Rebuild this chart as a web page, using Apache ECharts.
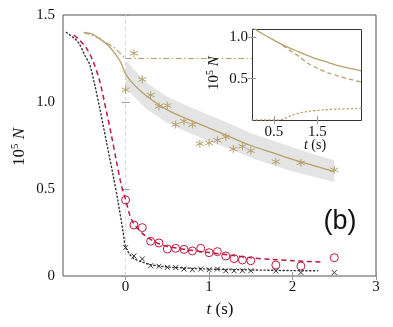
<!DOCTYPE html>
<html><head><meta charset="utf-8">
<script src="https://cdn.jsdelivr.net/npm/echarts@6/dist/echarts.min.js"></script>
<style>html,body{margin:0;padding:0;background:#fff}#c{width:393px;height:327px}</style>
</head><body><div id="c"></div><script>
// ---- main panel ticks ----
const mainXTicks = [0, 1, 2, 3];
const mainYTicks = [0, 0.5, 1.0, 1.5];
const insetXTicks = [0.5, 1.5];
const insetYTicks = [0.5, 1.0];

// ---- main: gold solid fit ----
const goldT = [-0.5,-0.4,-0.3,-0.2,-0.1,-0.05,0,0.1,0.25,0.5,0.75,1,1.25,1.5,1.75,2,2.25,2.5];
const goldV = [1.40,1.39,1.36,1.32,1.26,1.22,1.16,1.10,1.035,0.955,0.90,0.85,0.80,0.75,0.71,0.67,0.635,0.60];
// gold uncertainty band
const bandT  = [0,0.25,0.5,0.75,1,1.25,1.5,1.75,2,2.25,2.5];
const bandHi = [1.24,1.11,1.03,0.975,0.925,0.875,0.82,0.78,0.74,0.70,0.665];
const bandLo = [1.08,0.96,0.88,0.825,0.775,0.73,0.68,0.64,0.60,0.57,0.54];
// gold dash-dot
const ddT = [-0.5,-0.31,-0.13,0,2.5];
const ddV = [1.40,1.365,1.31,1.25,1.25];
// gold asterisk points
const goldPtsT = [0,0.1,0.2,0.3,0.4,0.5,0.6,0.7,0.8,0.89,1.0,1.1,1.2,1.29,1.4,1.5,1.8,2.1,2.5];
const goldPtsV = [1.07,1.28,1.13,1.04,0.975,0.98,0.87,0.89,0.87,0.76,0.765,0.78,0.80,0.73,0.745,0.72,0.657,0.65,0.61];

// ---- main: red dashed fit + circles ----
const redT = [-0.62,-0.55,-0.47,-0.39,-0.31,-0.23,-0.17,-0.11,-0.05,0,0.05,0.1,0.2,0.3,0.4,0.5,0.75,1.0,1.25,1.5,1.75,2.0,2.35];
const redV = [1.385,1.355,1.31,1.235,1.12,0.946,0.81,0.66,0.52,0.44,0.35,0.30,0.245,0.21,0.185,0.17,0.15,0.135,0.12,0.105,0.095,0.088,0.08];
const redPtsT = [0,0.1,0.2,0.3,0.4,0.5,0.6,0.7,0.8,0.9,1.0,1.1,1.2,1.3,1.4,1.5,1.8,2.1,2.5];
const redPtsV = [0.437,0.293,0.278,0.2,0.19,0.155,0.159,0.153,0.144,0.159,0.134,0.14,0.115,0.1,0.092,0.088,0.063,0.057,0.105];

// ---- main: black dotted fit + crosses ----
const blackT = [-0.71,-0.6,-0.55,-0.49,-0.43,-0.37,-0.31,-0.23,-0.15,-0.09,-0.03,0,0.05,0.1,0.2,0.3,0.5,0.75,1.0,1.5,2.0,2.3];
const blackV = [1.40,1.36,1.33,1.27,1.215,1.10,0.965,0.773,0.58,0.427,0.254,0.167,0.125,0.1,0.08,0.065,0.052,0.045,0.04,0.035,0.031,0.03];
const blackPtsT = [0,0.1,0.2,0.3,0.4,0.5,0.6,0.7,0.8,0.9,1.0,1.1,1.2,1.3,1.4,1.5,1.8,2.1,2.5];
const blackPtsV = [0.163,0.115,0.098,0.059,0.056,0.05,0.048,0.04,0.036,0.04,0.036,0.04,0.03,0.03,0.03,0.03,0.029,0.02,0.02];

// reference line
const vLineX = 0;

// ---- inset ----
const inSolidT = [0,0.25,0.5,0.75,1.0,1.25,1.5,1.75,2.0,2.25,2.5];
const inSolidV = [1.12,1.04,0.965,0.895,0.84,0.785,0.735,0.695,0.655,0.625,0.595];
const inDashT = [0.7,0.9,1.1,1.3,1.5,1.75,2.0,2.25,2.5];
const inDashV = [0.90,0.83,0.76,0.68,0.625,0.57,0.53,0.49,0.46];
const inDotT = [0,0.6,0.75,0.9,1.1,1.3,1.6,2.0,2.5];
const inDotV = [0,0,0.02,0.055,0.085,0.105,0.12,0.133,0.142];

const zip = (a,b) => a.map((x,i)=>[x,b[i]]);
const GOLD = '#b7a16a', RED = '#c0183f', BLACK = '#333333';
const SERIF = 'Liberation Serif, Times New Roman, serif';

const star = 'path://M0,-5L0,5M-4.33,-2.5L4.33,2.5M-4.33,2.5L4.33,-2.5';
const cross = 'path://M-3,-3L3,3M-3,3L3,-3';

const chart = echarts.init(document.getElementById('c'), null, {renderer:'canvas'});

function axisX(gridIndex, pos, min, max, ticks, labels, z, margin){
  return {type:'value', gridIndex, position:pos, min, max, z,
    axisLine:{show:false}, splitLine:{show:false},
    axisTick:{show:true, inside:true, length:4, customValues:ticks, lineStyle:{color:'#999', width:1}},
    axisLabel:{show:labels, customValues:ticks, margin, color:'#111', fontFamily:SERIF, fontSize:15,
      formatter: v => (Math.abs(v - Math.round(v))<1e-9 ? String(Math.round(v)) : v.toFixed(1))}};
}
function axisY(gridIndex, pos, min, max, ticks, labels, z, margin){
  return {type:'value', gridIndex, position:pos, min, max, z,
    axisLine:{show:false}, splitLine:{show:false},
    axisTick:{show:true, inside:true, length:4, customValues:ticks, lineStyle:{color:'#999', width:1}},
    axisLabel:{show:labels, customValues:ticks, margin, color:'#111', fontFamily:SERIF, fontSize:15,
      formatter: v => (v===0 ? '0' : v.toFixed(1))}};
}

const option = {
  animation:false,
  backgroundColor:'#fff',
  grid:[
    {left:63, top:15, width:313, height:261, show:true, borderColor:'#555', borderWidth:1, backgroundColor:'transparent'},
    {left:252, top:29, width:109, height:91, show:false}
  ],
  xAxis:[
    axisX(0,'bottom',-0.75,3,mainXTicks,true,0,4),
    axisX(0,'top',-0.75,3,mainXTicks,false,0,4),
    axisX(1,'bottom',0,2.5,insetXTicks,true,11,5),
    axisX(1,'top',0,2.5,insetXTicks,false,11,5)
  ],
  yAxis:[
    axisY(0,'left',0,1.5,mainYTicks,true,0,8),
    axisY(0,'right',0,1.5,mainYTicks,false,0,8),
    axisY(1,'left',0,1.1,insetYTicks,true,11,4),
    axisY(1,'right',0,1.1,insetYTicks,false,11,4)
  ],
  series:[
    {type:'line', xAxisIndex:0, yAxisIndex:0, data:[[vLineX,0],[vLineX,1.5]], showSymbol:false, silent:true, z:1,
      lineStyle:{color:'#d6d6d6', width:1, type:[4,3]}},
    {type:'custom', xAxisIndex:0, yAxisIndex:0, data:[[0,0]], z:1, silent:true,
      renderItem:(params, api)=>{
        const pts=[];
        for(let i=0;i<bandT.length;i++) pts.push(api.coord([bandT[i], bandHi[i]]));
        for(let i=bandT.length-1;i>=0;i--) pts.push(api.coord([bandT[i], bandLo[i]]));
        return {type:'polygon', shape:{points:pts}, style:{fill:'#e4e4e4', stroke:null}};
      }},
    {type:'line', xAxisIndex:0, yAxisIndex:0, data:zip(ddT,ddV), showSymbol:false, z:2,
      lineStyle:{color:GOLD, width:1.2, type:[6,2.5,1.5,2.5]}},
    {type:'line', xAxisIndex:0, yAxisIndex:0, data:zip(goldT,goldV), showSymbol:false, smooth:0.3, z:3,
      lineStyle:{color:GOLD, width:1.3}},
    {type:'line', xAxisIndex:0, yAxisIndex:0, data:zip(redT,redV), showSymbol:false, smooth:0.3, z:3,
      lineStyle:{color:RED, width:1.5, type:[5,3.5]}},
    {type:'line', xAxisIndex:0, yAxisIndex:0, data:zip(blackT,blackV), showSymbol:false, smooth:0.3, z:3,
      lineStyle:{color:BLACK, width:1.4, type:[1.2,2.6], cap:'round'}},
    {type:'scatter', xAxisIndex:0, yAxisIndex:0, data:zip(goldPtsT,goldPtsV), symbol:star, symbolSize:8, z:4,
      itemStyle:{color:'none', borderColor:GOLD, borderWidth:1, opacity:1}},
    {type:'scatter', xAxisIndex:0, yAxisIndex:0, data:zip(redPtsT,redPtsV), symbol:'circle', symbolSize:8, z:4,
      itemStyle:{color:'rgba(255,255,255,0)', borderColor:RED, borderWidth:1, opacity:1}},
    {type:'scatter', xAxisIndex:0, yAxisIndex:0, data:zip(blackPtsT,blackPtsV), symbol:cross, symbolSize:5, z:4,
      itemStyle:{color:'none', borderColor:BLACK, borderWidth:1, opacity:1}},
    // inset
    {type:'line', xAxisIndex:2, yAxisIndex:2, data:zip(inSolidT,inSolidV), showSymbol:false, smooth:0.3, z:12,
      lineStyle:{color:GOLD, width:1.3}},
    {type:'line', xAxisIndex:2, yAxisIndex:2, data:zip(inDashT,inDashV), showSymbol:false, smooth:0.3, z:12,
      lineStyle:{color:GOLD, width:1.3, type:[4.5,3]}},
    {type:'line', xAxisIndex:2, yAxisIndex:2, data:zip(inDotT,inDotV), showSymbol:false, smooth:0.3, z:12,
      lineStyle:{color:GOLD, width:1.3, type:[1.2,3], cap:'round'}}
  ],
  graphic:[
    {type:'rect', z:9, silent:true, shape:{x:252.5, y:29.5, width:109, height:91},
      style:{fill:'#fff', stroke:'#333', lineWidth:1}},
    {type:'text', x:220, y:310, z:20, style:{text:'{i|t} (s)', fontFamily:SERIF, fontSize:17, fill:'#111', align:'center', verticalAlign:'middle',
      rich:{i:{fontStyle:'italic', fontFamily:SERIF, fontSize:17}}}},
    {type:'text', x:20, y:147, rotation:Math.PI/2, z:20, style:{text:'10{s|5} {i|N}', fontFamily:SERIF, fontSize:17, fill:'#111', align:'center', verticalAlign:'middle',
      rich:{s:{fontSize:11, verticalAlign:'top', padding:[0,0,9,0], fontFamily:SERIF}, i:{fontStyle:'italic', fontFamily:SERIF, fontSize:17}}}},
    {type:'text', x:315, y:145, z:20, style:{text:'{i|t} (s)', fontFamily:SERIF, fontSize:14, fill:'#111', align:'center', verticalAlign:'middle',
      rich:{i:{fontStyle:'italic', fontFamily:SERIF, fontSize:14}}}},
    {type:'text', x:214, y:73, rotation:Math.PI/2, z:20, style:{text:'10{s|5} {i|N}', fontFamily:SERIF, fontSize:15, fill:'#111', align:'center', verticalAlign:'middle',
      rich:{s:{fontSize:10, verticalAlign:'top', padding:[0,0,8,0], fontFamily:SERIF}, i:{fontStyle:'italic', fontFamily:SERIF, fontSize:15}}}},
    {type:'text', x:340, y:222, z:20, style:{text:'(b)', fontFamily:'Liberation Sans, Arial, sans-serif', fontSize:27, fill:'#111', align:'center', verticalAlign:'middle'}}
  ]
};
chart.setOption(option);
</script></body></html>
